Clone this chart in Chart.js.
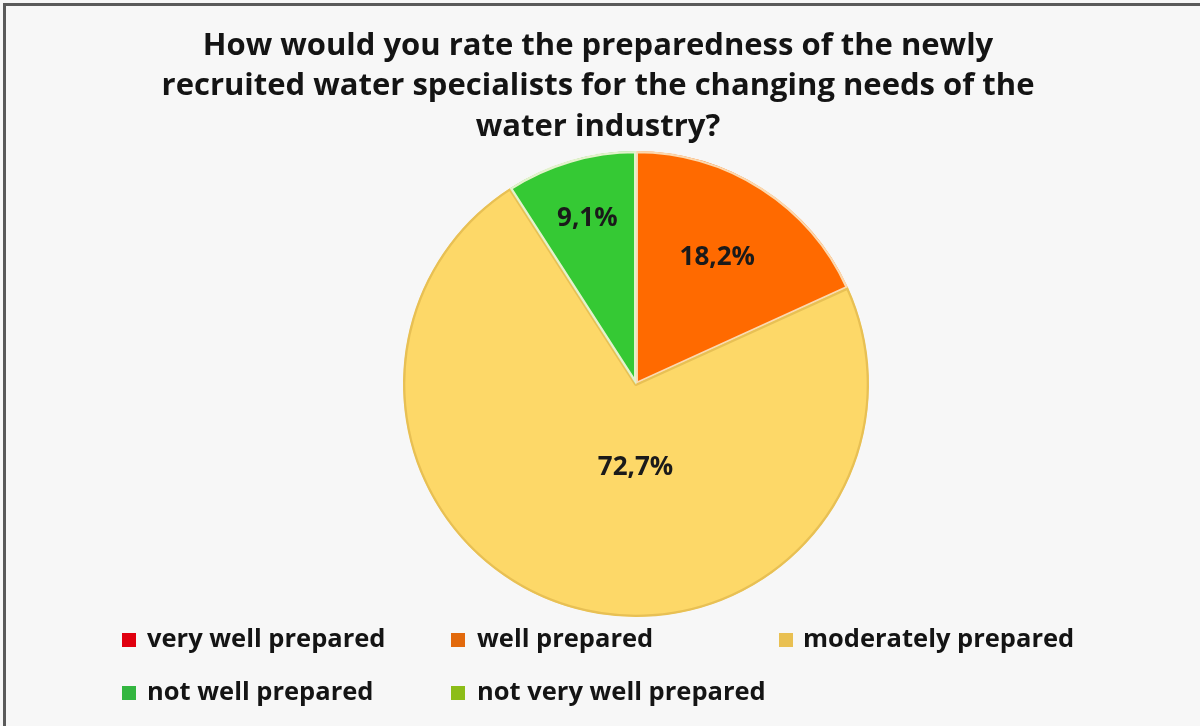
<!DOCTYPE html>
<html>
<head>
<meta charset="utf-8">
<title>Preparedness of newly recruited water specialists</title>
<script src="https://cdn.jsdelivr.net/npm/chart.js@4.4.1/dist/chart.umd.min.js"></script>
<style>
  html, body { margin: 0; padding: 0; background: #f7f7f7; }
  #wrap { position: relative; width: 1200px; height: 726px; }
</style>
</head>
<body>
<div id="wrap"><canvas id="pie" width="1200" height="726"></canvas></div>
<script>
// Survey answers, share of respondents (%)
const categories = [
  "very well prepared",
  "well prepared",
  "moderately prepared",
  "not well prepared",
  "not very well prepared"
]
const shares = [0, 18.2, 72.7, 9.1, 0]
const titleLines = [
  "How would you rate the preparedness of the newly",
  "recruited water specialists for the changing needs of the",
  "water industry?"
]

const sliceColors = ["#e00012", "#ff6a00", "#fdd868", "#35c934", "#8cbf1a"]
const sliceBorders = ["#ffffff", "#fbd9b0", "#e8c054", "#e4f2cc", "#ffffff"]
const swatchColors = ["#e0000f", "#e2690c", "#e9c052", "#33b640", "#8cbd18"]

const FONT = "'Open Sans', 'DejaVu Sans', sans-serif"
const fmt = v => v.toFixed(1).replace(".", ",") + "%"

// Frame, title and a two-row legend laid out in fixed columns
const decor = {
  id: "decor",
  beforeDraw(chart) {
    const ctx = chart.ctx
    ctx.save()
    ctx.fillStyle = "#f7f7f7"
    ctx.fillRect(0, 0, chart.width, chart.height)
    ctx.fillStyle = "#5a5a5a"
    ctx.fillRect(3, 3, chart.width - 3, 3)
    ctx.fillRect(3, 3, 3, chart.height - 3)
    ctx.restore()
  },
  afterDraw(chart, args, opts) {
    const ctx = chart.ctx
    ctx.save()
    ctx.fillStyle = "#141414"
    ctx.textAlign = "center"
    ctx.textBaseline = "middle"
    ctx.font = `bold ${opts.titleSize}px ${FONT}`
    titleLines.forEach((line, i) => ctx.fillText(line, opts.titleX, opts.titleY + i * opts.titleStep))

    ctx.textAlign = "left"
    ctx.font = `bold ${opts.legendSize}px ${FONT}`
    categories.forEach((name, i) => {
      const col = i % 3
      const row = Math.floor(i / 3)
      const y = opts.legendY + row * opts.legendStep
      ctx.fillStyle = swatchColors[i]
      ctx.fillRect(opts.swatchX[col], y - 7, 14, 14)
      ctx.fillStyle = "#141414"
      ctx.fillText(name, opts.textX[col], y)
    })
    ctx.restore()
  }
}

// Percent labels inside the slices
const sliceLabels = {
  id: "sliceLabels",
  afterDatasetsDraw(chart, args, opts) {
    const ctx = chart.ctx
    const meta = chart.getDatasetMeta(0)
    ctx.save()
    ctx.font = `bold ${opts.size}px ${FONT}`
    ctx.fillStyle = "#1a1a1a"
    ctx.textAlign = "center"
    ctx.textBaseline = "middle"
    meta.data.forEach((arc, i) => {
      const v = chart.data.datasets[0].data[i]
      if (!v) return
      const p = arc.getProps(["x", "y", "startAngle", "endAngle", "outerRadius"], true)
      const mid = (p.startAngle + p.endAngle) / 2 + (opts.turn[i] || 0)
      const r = p.outerRadius * opts.reach[i]
      ctx.fillText(fmt(v), p.x + Math.cos(mid) * r, p.y + Math.sin(mid) * r)
    })
    ctx.restore()
  }
}

new Chart(document.getElementById("pie"), {
  type: "pie",
  data: {
    labels: categories,
    datasets: [{
      data: shares,
      backgroundColor: sliceColors,
      borderColor: sliceBorders,
      borderWidth: 2,
      borderAlign: "inner"
    }]
  },
  options: {
    responsive: false,
    animation: false,
    layout: { padding: { top: 151, bottom: 109, left: 72, right: 0 } },
    plugins: {
      legend: { display: false },
      title: { display: false },
      tooltip: { enabled: false },
      decor: {
        titleSize: 31, titleX: 598, titleY: 46, titleStep: 40.5,
        legendSize: 25.5, legendY: 640, legendStep: 53,
        swatchX: [122, 451, 779], textX: [147, 477, 803]
      },
      sliceLabels: {
        size: 26,
        reach: [0, 0.645, 0.36, 0.74, 0],
        turn: [0, 0, -0.28, 0, 0]
      }
    }
  },
  plugins: [decor, sliceLabels]
})
</script>
</body>
</html>
